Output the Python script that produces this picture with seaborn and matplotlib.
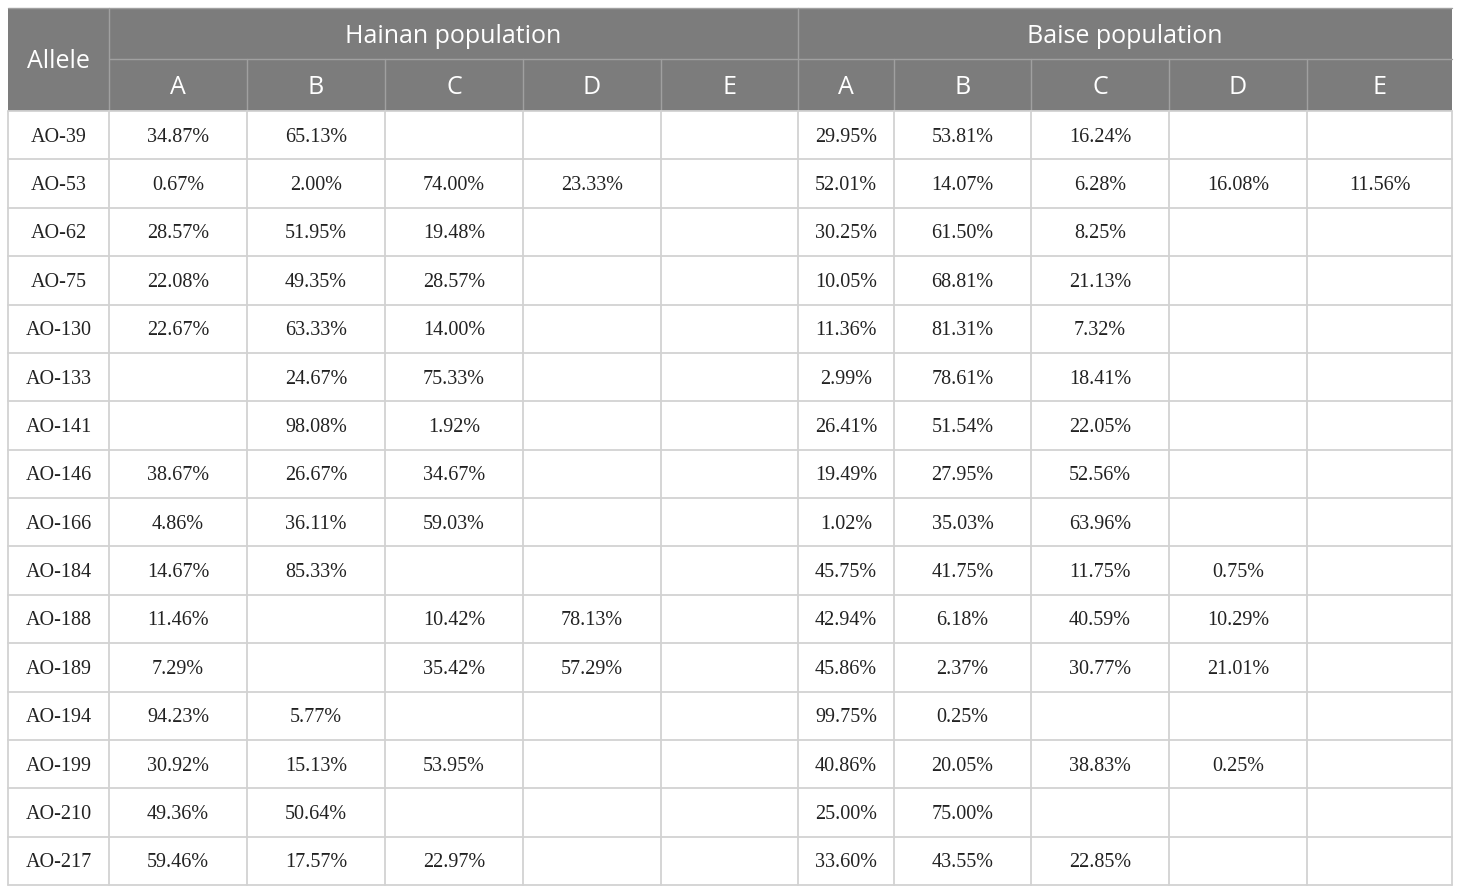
import numpy as np
import pandas as pd
import matplotlib
matplotlib.use("Agg")
import matplotlib.pyplot as plt
import seaborn as sns
from matplotlib.patches import Rectangle

sns.set_style("white")

#%% Data
alleles = ["AO-39", "AO-53", "AO-62", "AO-75", "AO-130", "AO-133", "AO-141", "AO-146",
           "AO-166", "AO-184", "AO-188", "AO-189", "AO-194", "AO-199", "AO-210", "AO-217"]
sub_labels = ["A", "B", "C", "D", "E"]
populations = ["Hainan population", "Baise population"]

hainan_A = ["34.87%", "0.67%", "28.57%", "22.08%", "22.67%", "", "", "38.67%",
            "4.86%", "14.67%", "11.46%", "7.29%", "94.23%", "30.92%", "49.36%", "59.46%"]
hainan_B = ["65.13%", "2.00%", "51.95%", "49.35%", "63.33%", "24.67%", "98.08%", "26.67%",
            "36.11%", "85.33%", "", "", "5.77%", "15.13%", "50.64%", "17.57%"]
hainan_C = ["", "74.00%", "19.48%", "28.57%", "14.00%", "75.33%", "1.92%", "34.67%",
            "59.03%", "", "10.42%", "35.42%", "", "53.95%", "", "22.97%"]
hainan_D = ["", "23.33%", "", "", "", "", "", "",
            "", "", "78.13%", "57.29%", "", "", "", ""]
hainan_E = [""] * 16

baise_A = ["29.95%", "52.01%", "30.25%", "10.05%", "11.36%", "2.99%", "26.41%", "19.49%",
           "1.02%", "45.75%", "42.94%", "45.86%", "99.75%", "40.86%", "25.00%", "33.60%"]
baise_B = ["53.81%", "14.07%", "61.50%", "68.81%", "81.31%", "78.61%", "51.54%", "27.95%",
           "35.03%", "41.75%", "6.18%", "2.37%", "0.25%", "20.05%", "75.00%", "43.55%"]
baise_C = ["16.24%", "6.28%", "8.25%", "21.13%", "7.32%", "18.41%", "22.05%", "52.56%",
           "63.96%", "11.75%", "40.59%", "30.77%", "", "38.83%", "", "22.85%"]
baise_D = ["", "16.08%", "", "", "", "", "", "",
           "", "0.75%", "10.29%", "21.01%", "", "0.25%", "", ""]
baise_E = ["", "11.56%", "", "", "", "", "", "",
           "", "", "", "", "", "", "", ""]

table = pd.DataFrame({
    "Allele": alleles,
    "H_A": hainan_A, "H_B": hainan_B, "H_C": hainan_C, "H_D": hainan_D, "H_E": hainan_E,
    "B_A": baise_A, "B_B": baise_B, "B_C": baise_C, "B_D": baise_D, "B_E": baise_E,
})

#%% Layout (pixels)
W, H = 1460, 893
col_edges = [8, 109, 247, 385, 523, 661, 798, 894, 1031, 1169, 1307, 1452]
top, hdr1, hdr2, bottom = 8, 59, 111, 885
row_h = (bottom - hdr2) / len(table)

hdr_color = "#7c7c7c"
hdr_line = "#a0a0a0"
grid_color = "#d2d2d2"
sans = ["Open Sans", "DejaVu Sans"]
serif = ["Liberation Serif", "DejaVu Serif"]

fig = plt.figure(figsize=(W / 100, H / 100), dpi=100)
ax = fig.add_axes([0, 0, 1, 1])
ax.set_xlim(0, W)
ax.set_ylim(H, 0)
ax.axis("off")

# header background
ax.add_patch(Rectangle((col_edges[0], top), col_edges[-1] - col_edges[0], hdr2 - top,
                       facecolor=hdr_color, edgecolor="none"))

# header lines
ax.plot([col_edges[1], col_edges[-1]], [hdr1, hdr1], color=hdr_line, lw=1)
for x in col_edges[1:-1]:
    y0 = top if x in (col_edges[1], col_edges[6]) else hdr1
    ax.plot([x, x], [y0, hdr2], color=hdr_line, lw=1)
ax.plot([col_edges[0], col_edges[-1]], [top, top], color=hdr_line, lw=1)

# header text
hdr_fs = 18
ax.text((col_edges[0] + col_edges[1]) / 2, (top + hdr2) / 2 + 2, "Allele", color="white",
        ha="center", va="center", fontsize=hdr_fs, family=sans)
ax.text((col_edges[1] + col_edges[6]) / 2, (top + hdr1) / 2 + 3, populations[0], color="white",
        ha="center", va="center", fontsize=hdr_fs, family=sans)
ax.text((col_edges[6] + col_edges[11]) / 2, (top + hdr1) / 2 + 3, populations[1], color="white",
        ha="center", va="center", fontsize=hdr_fs, family=sans)
for i in range(10):
    ax.text((col_edges[i + 1] + col_edges[i + 2]) / 2, (hdr1 + hdr2) / 2 + 3,
            sub_labels[i % 5], color="white", ha="center", va="center",
            fontsize=hdr_fs, family=sans)

# body grid
for r in range(len(table) + 1):
    y = hdr2 + r * row_h
    ax.plot([col_edges[0], col_edges[-1]], [y, y], color=grid_color, lw=1.3)
for x in col_edges:
    ax.plot([x, x], [hdr2, bottom], color=grid_color, lw=1.3)

# body text
for r, row in enumerate(table.itertuples(index=False)):
    yc = hdr2 + (r + 0.5) * row_h + 2
    for c, val in enumerate(row):
        if val:
            ax.text((col_edges[c] + col_edges[c + 1]) / 2, yc, val, color="#222222",
                    ha="center", va="center", fontsize=14.5, family=serif)

fig.savefig("out.png", dpi=100)
